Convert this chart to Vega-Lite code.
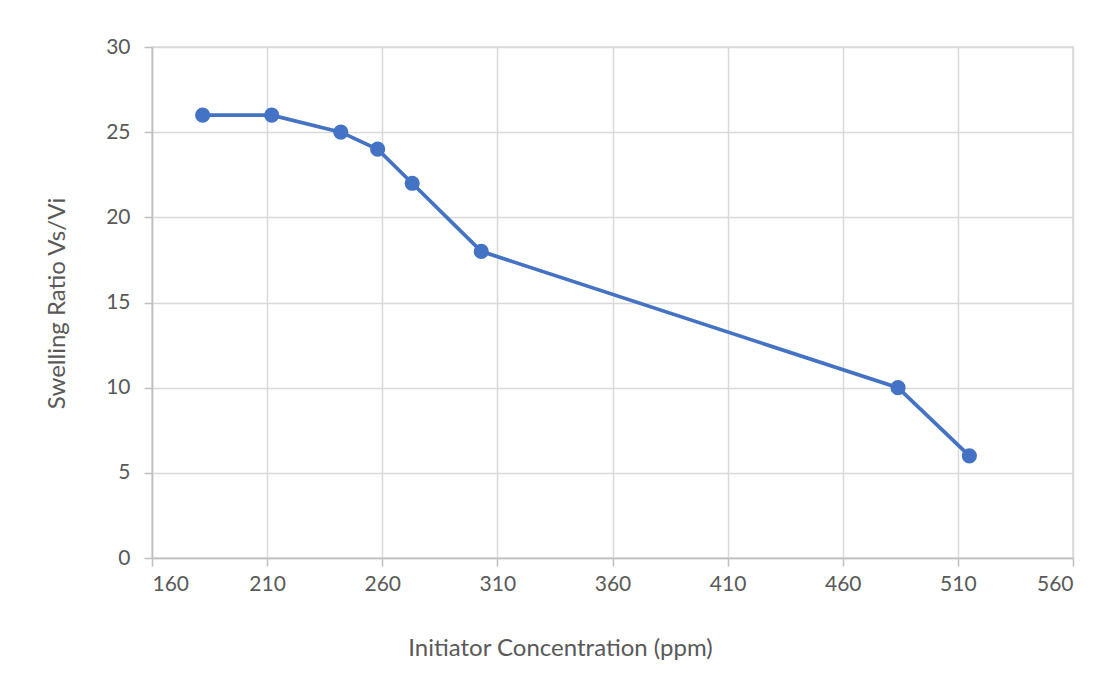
{
  "$schema": "https://vega.github.io/schema/vega-lite/v6.json",
  "autosize": "none",
  "padding": {"left": 152, "top": 47, "right": 25, "bottom": 119},
  "width": 921,
  "height": 511,
  "background": "white",
  "config": {
    "view": {"stroke": "#d9d9d9", "strokeWidth": 1.5},
    "font": "Lato",
    "axis": {
      "gridColor": "#d9d9d9",
      "gridWidth": 1.5,
      "domainColor": "#bfbfbf",
      "domainWidth": 1.5,
      "tickColor": "#bfbfbf",
      "tickWidth": 1.5,
      "tickSize": 8,
      "labelColor": "#595959",
      "labelFont": "Lato",
      "labelFontSize": 21,
      "titleColor": "#595959",
      "titleFont": "Lato",
      "titleFontSize": 24,
      "titleFontWeight": "normal"
    }
  },
  "data": {
    "values": [
      {"initiator_ppm": 182, "swelling_ratio": 26},
      {"initiator_ppm": 212, "swelling_ratio": 26},
      {"initiator_ppm": 242, "swelling_ratio": 25},
      {"initiator_ppm": 258, "swelling_ratio": 24},
      {"initiator_ppm": 273, "swelling_ratio": 22},
      {"initiator_ppm": 303, "swelling_ratio": 18},
      {"initiator_ppm": 484, "swelling_ratio": 10},
      {"initiator_ppm": 515, "swelling_ratio": 6}
    ]
  },
  "encoding": {
    "x": {
      "field": "initiator_ppm",
      "type": "quantitative",
      "scale": {"domain": [160, 560], "nice": false, "zero": false},
      "axis": {
        "title": "Initiator Concentration (ppm)",
        "values": [160, 210, 260, 310, 360, 410, 460, 510, 560],
        "labelPadding": 7,
        "titleX": 408,
        "titleY": 90,
        "titleBaseline": "middle"
      }
    },
    "y": {
      "field": "swelling_ratio",
      "type": "quantitative",
      "scale": {"domain": [0, 30], "nice": false},
      "axis": {
        "title": "Swelling Ratio Vs/Vi",
        "values": [0, 5, 10, 15, 20, 25, 30],
        "labelPadding": 14,
        "titleX": -95,
        "titleY": 256,
        "titleAlign": "center",
        "titleBaseline": "middle"
      }
    }
  },
  "layer": [
    {"mark": {"type": "line", "color": "#4472C4", "strokeWidth": 3.75}},
    {"mark": {"type": "point", "filled": true, "opacity": 1, "color": "#4472C4", "size": 230}}
  ]
}
